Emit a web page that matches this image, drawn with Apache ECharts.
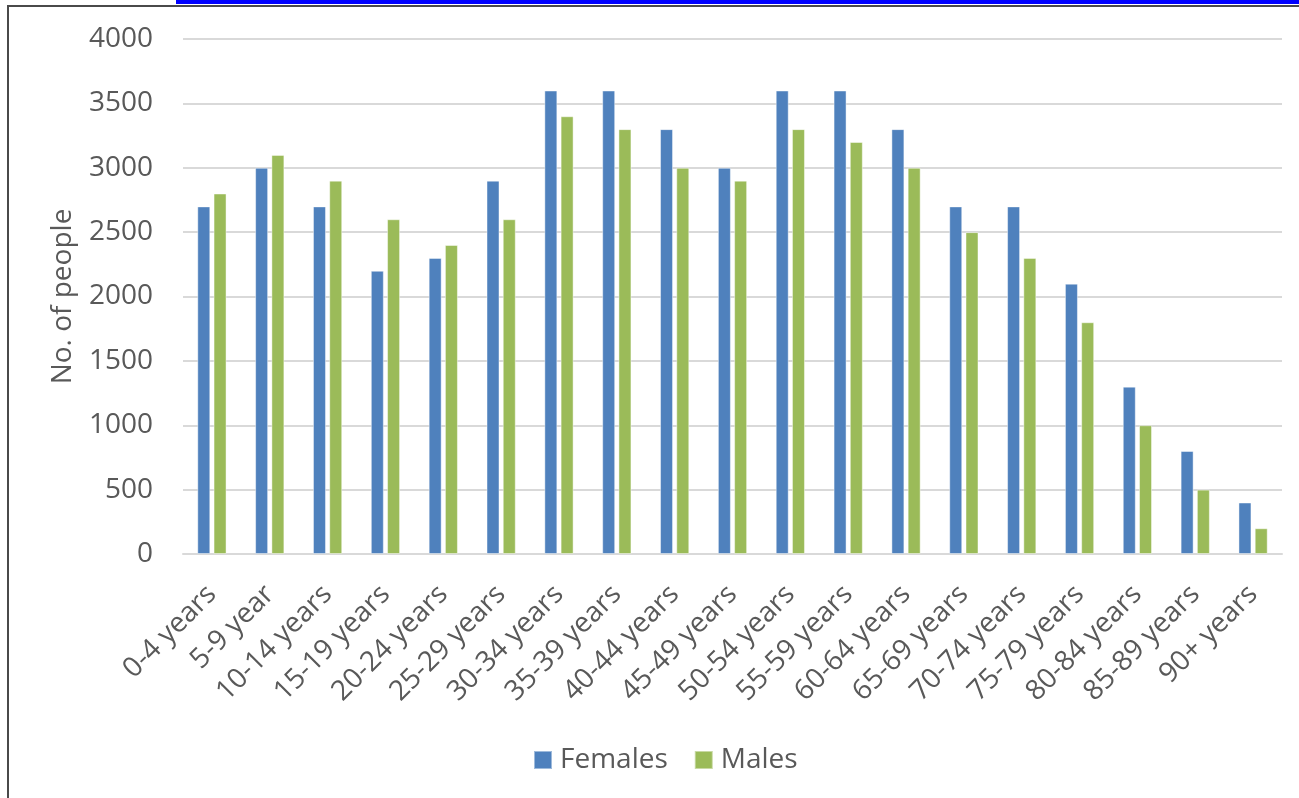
<!DOCTYPE html>
<html>
<head>
<meta charset="utf-8">
<title>Population by age group</title>
<script src="https://cdn.jsdelivr.net/npm/echarts@6/dist/echarts.min.js"></script>
<style>
  html, body { margin: 0; padding: 0; background: #fff; }
  #chart { width: 1299px; height: 798px; }
</style>
</head>
<body>
<div id="chart"></div>
<script>
// age groups along the x axis
const ageGroups = ['0-4 years', '5-9 year', '10-14 years', '15-19 years', '20-24 years',
  '25-29 years', '30-34 years', '35-39 years', '40-44 years', '45-49 years',
  '50-54 years', '55-59 years', '60-64 years', '65-69 years', '70-74 years',
  '75-79 years', '80-84 years', '85-89 years', '90+ years']

const females = [2700, 3000, 2700, 2200, 2300, 2900, 3600, 3600, 3300, 3000,
  3600, 3600, 3300, 2700, 2700, 2100, 1300, 800, 400]
const males = [2800, 3100, 2900, 2600, 2400, 2600, 3400, 3300, 3000, 2900,
  3300, 3200, 3000, 2500, 2300, 1800, 1000, 500, 200]

const textColor = '#595959'
const font = '"Open Sans", "Noto Sans", sans-serif'
const fontSize = 28

const chart = echarts.init(document.getElementById('chart'))

const option = {
  animation: false,
  textStyle: { fontFamily: font, color: textColor },
  color: ['#4F81BD', '#9BBB59'],
  grid: { left: 183, right: 17, top: 39, bottom: 244 },
  legend: {
    left: 533,
    top: 746,
    padding: 0,
    itemWidth: 18,
    itemHeight: 18,
    itemGap: 26,
    icon: 'rect',
    textStyle: { fontSize: fontSize, color: textColor, fontFamily: font, padding: [0, 0, 0, 3] },
    data: ['Females', 'Males']
  },
  xAxis: {
    type: 'category',
    data: ageGroups,
    axisLine: { lineStyle: { color: '#D9D9D9', width: 2 } },
    axisTick: { show: false },
    axisLabel: {
      interval: 0,
      rotate: 45,
      margin: 36,
      fontSize: fontSize,
      color: textColor,
      fontFamily: font
    }
  },
  yAxis: {
    type: 'value',
    min: 0,
    max: 4000,
    interval: 500,
    name: 'No. of people',
    nameLocation: 'middle',
    nameRotate: 90,
    nameGap: 106,
    nameTextStyle: { fontSize: fontSize, color: textColor, fontFamily: font },
    axisLine: { show: false },
    axisTick: { show: false },
    axisLabel: {
      margin: 30,
      fontSize: fontSize,
      color: textColor,
      fontFamily: font,
      formatter: v => String(v)
    },
    splitLine: { lineStyle: { color: '#D9D9D9', width: 2 } }
  },
  series: [
    {
      name: 'Females',
      type: 'bar',
      data: females,
      barWidth: 13,
      barGap: '25%',
      itemStyle: { borderColor: 'rgba(255,255,255,0.45)', borderWidth: 1 }
    },
    {
      name: 'Males',
      type: 'bar',
      data: males,
      barWidth: 13,
      barGap: '25%',
      itemStyle: { borderColor: 'rgba(255,255,255,0.45)', borderWidth: 1 }
    }
  ],
  // frame of the pasted chart + the link underline above it
  graphic: [
    { type: 'rect', shape: { x: 176, y: 0, width: 1123, height: 4 }, style: { fill: '#0000FF' } },
    { type: 'rect', shape: { x: 7, y: 5, width: 1292, height: 2 }, style: { fill: '#4A4A4A' } },
    { type: 'rect', shape: { x: 7, y: 5, width: 2, height: 793 }, style: { fill: '#4A4A4A' } }
  ]
}

chart.setOption(option)
</script>
</body>
</html>
